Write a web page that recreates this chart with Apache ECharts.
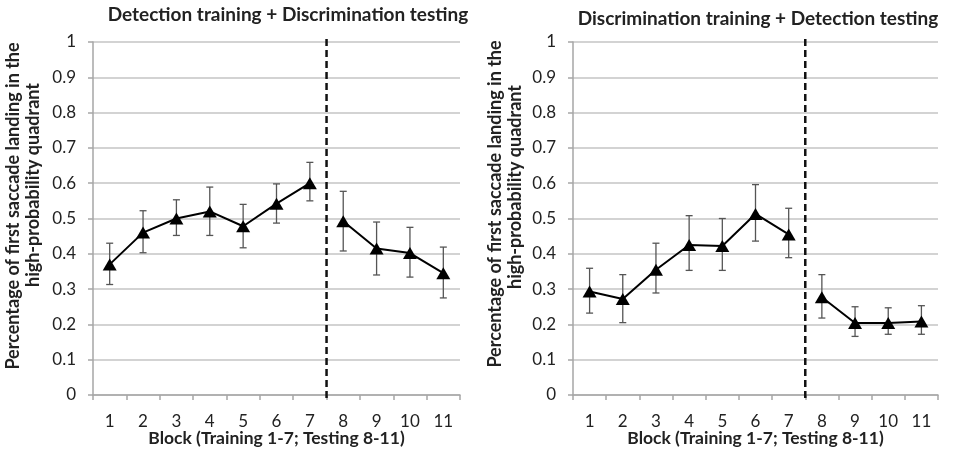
<!DOCTYPE html>
<html>
<head>
<meta charset="utf-8">
<script src="https://cdn.jsdelivr.net/npm/echarts@6/dist/echarts.min.js"></script>
<style>
  html, body { margin: 0; padding: 0; background: #fff; }
  #chart { width: 953px; height: 452px; }
</style>
</head>
<body>
<div id="chart"></div>
<script>
// blocks 1-7 are training, 8-11 testing
const blocks = ["1", "2", "3", "4", "5", "6", "7", "8", "9", "10", "11"];
const yTicks = [0, 0.1, 0.2, 0.3, 0.4, 0.5, 0.6, 0.7, 0.8, 0.9, 1];

// Detection training + Discrimination testing
const detMean = [0.37, 0.46, 0.50, 0.52, 0.478, 0.542, 0.60, 0.492, 0.415, 0.402, 0.345];
const detHigh = [0.43, 0.522, 0.553, 0.589, 0.54, 0.598, 0.659, 0.577, 0.49, 0.475, 0.419];
const detLow = [0.313, 0.403, 0.452, 0.452, 0.417, 0.487, 0.55, 0.408, 0.34, 0.334, 0.275];

// Discrimination training + Detection testing
const discMean = [0.293, 0.272, 0.355, 0.425, 0.422, 0.513, 0.455, 0.277, 0.204, 0.204, 0.208];
const discHigh = [0.359, 0.341, 0.43, 0.508, 0.50, 0.596, 0.529, 0.341, 0.25, 0.247, 0.253];
const discLow = [0.232, 0.205, 0.289, 0.353, 0.353, 0.436, 0.389, 0.218, 0.166, 0.172, 0.172];

const FONT = "Lato";
const chart = echarts.init(document.getElementById("chart"), null, { renderer: "canvas" });

function xAxisFor(gridIndex) {
  return {
    type: "category",
    gridIndex: gridIndex,
    data: blocks,
    boundaryGap: true,
    axisLine: { lineStyle: { color: "#a6a6a6", width: 1.5 } },
    axisTick: { show: true, interval: 0, length: 5, lineStyle: { color: "#a6a6a6", width: 1.5 } },
    axisLabel: { color: "#222", fontSize: 17, fontFamily: FONT, margin: 18, interval: 0 },
    name: "Block (Training 1-7; Testing 8-11)",
    nameLocation: "middle",
    nameGap: 34,
    nameMoveOverlap: false,
    nameTextStyle: { color: "#222", fontSize: 17.5, fontWeight: "bold", fontFamily: FONT },
  };
}

function yAxisFor(gridIndex) {
  return {
    type: "value",
    gridIndex: gridIndex,
    min: 0,
    max: 1,
    interval: 0.1,
    axisLine: { show: true, lineStyle: { color: "#a6a6a6", width: 1.5 } },
    axisTick: { show: true, length: 5, lineStyle: { color: "#a6a6a6", width: 1.5 } },
    axisLabel: {
      color: "#222",
      fontSize: 17,
      fontFamily: FONT,
      margin: 17,
      formatter: (v) => {
        const t = yTicks.find((k) => Math.abs(k - v) < 1e-6);
        return t === undefined ? "" : String(t);
      },
    },
    splitLine: { lineStyle: { color: "#c4c4c4", width: 1.5 } },
  };
}

function lineSeries(idx, data) {
  return {
    type: "line",
    xAxisIndex: idx,
    yAxisIndex: idx,
    data: data,
    symbol: "triangle",
    symbolSize: [14, 12],
    itemStyle: { color: "#000" },
    lineStyle: { color: "#000", width: 2 },
    z: 5,
    animation: false,
    connectNulls: false,
  };
}

// split mean into training and testing so the line does not cross the divider
function part(arr, from, to) {
  return arr.map((v, i) => (i >= from && i <= to ? v : null));
}

function errorSeries(idx, low, high) {
  return {
    type: "custom",
    xAxisIndex: idx,
    yAxisIndex: idx,
    data: low.map((v, i) => [i, v, high[i]]),
    z: 4,
    animation: false,
    renderItem: (params, api) => {
      const lo = api.coord([api.value(0), api.value(1)]);
      const hi = api.coord([api.value(0), api.value(2)]);
      const cap = 3.5;
      const style = { stroke: "#555", lineWidth: 1.3 };
      return {
        type: "group",
        children: [
          { type: "line", shape: { x1: lo[0], y1: lo[1], x2: hi[0], y2: hi[1] }, style: style },
          { type: "line", shape: { x1: lo[0] - cap, y1: lo[1], x2: lo[0] + cap, y2: lo[1] }, style: style },
          { type: "line", shape: { x1: hi[0] - cap, y1: hi[1], x2: hi[0] + cap, y2: hi[1] }, style: style },
        ],
      };
    },
  };
}

function dividerSeries(idx) {
  return {
    type: "custom",
    xAxisIndex: idx,
    yAxisIndex: idx,
    data: [[6, 7]],
    z: 3,
    animation: false,
    renderItem: (params, api) => {
      const a = api.coord([api.value(0), 1]);
      const b = api.coord([api.value(1), 0]);
      const x = (a[0] + b[0]) / 2;
      return {
        type: "line",
        shape: { x1: x, y1: a[1] - 3, x2: x, y2: b[1] + 6 },
        style: { stroke: "#111", lineWidth: 2.5, lineDash: [7, 4] },
      };
    },
  };
}

const yTitleStyle = { fill: "#222", fontSize: 18, fontWeight: "bold", fontFamily: FONT, align: "center", verticalAlign: "middle" };

const option = {
  backgroundColor: "#fff",
  animation: false,
  title: [
    {
      text: "Detection training + Discrimination testing",
      left: 283,
      top: 0,
      textAlign: "center",
      textStyle: { color: "#222", fontSize: 19, fontWeight: "bold", fontFamily: FONT },
    },
    {
      text: "Discrimination training + Detection testing",
      left: 753,
      top: 4,
      textAlign: "center",
      textStyle: { color: "#222", fontSize: 19, fontWeight: "bold", fontFamily: FONT },
    },
  ],
  grid: [
    { left: 93, top: 42, width: 367, height: 353, outerBoundsMode: "none" },
    { left: 573, top: 42, width: 365, height: 353, outerBoundsMode: "none" },
  ],
  xAxis: [xAxisFor(0), xAxisFor(1)],
  yAxis: [yAxisFor(0), yAxisFor(1)],
  graphic: [
    { type: "text", x: 13, y: 206, rotation: Math.PI / 2, style: Object.assign({ text: "Percentage of first saccade landing in the" }, yTitleStyle) },
    { type: "text", x: 33, y: 185, rotation: Math.PI / 2, style: Object.assign({ text: "high-probability quadrant" }, yTitleStyle) },
    { type: "text", x: 495, y: 204, rotation: Math.PI / 2, style: Object.assign({ text: "Percentage of first saccade landing in the" }, yTitleStyle) },
    { type: "text", x: 515, y: 187, rotation: Math.PI / 2, style: Object.assign({ text: "high-probability quadrant" }, yTitleStyle) },
  ],
  series: [
    dividerSeries(0),
    errorSeries(0, detLow, detHigh),
    lineSeries(0, part(detMean, 0, 6)),
    lineSeries(0, part(detMean, 7, 10)),
    dividerSeries(1),
    errorSeries(1, discLow, discHigh),
    lineSeries(1, part(discMean, 0, 6)),
    lineSeries(1, part(discMean, 7, 10)),
  ],
};

chart.setOption(option);
</script>
</body>
</html>
